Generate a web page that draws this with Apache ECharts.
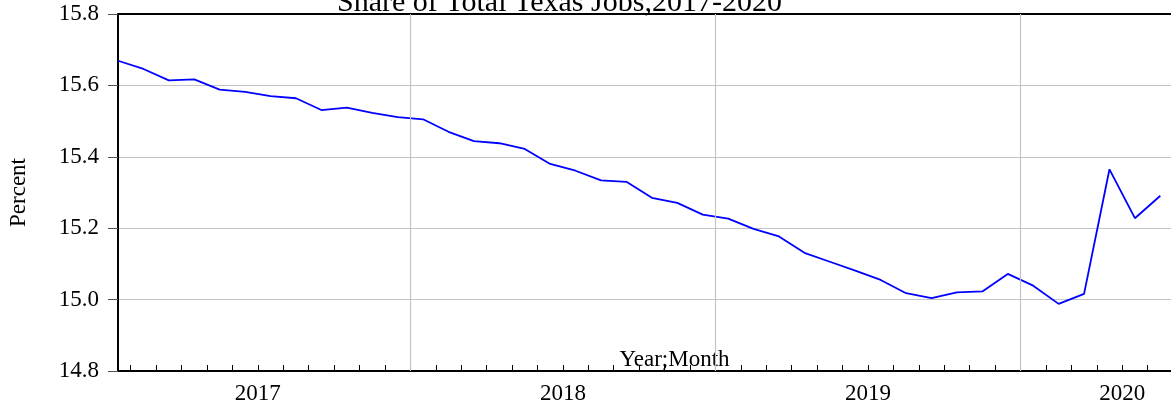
<!DOCTYPE html>
<html>
<head>
<meta charset="utf-8">
<script src="https://cdn.jsdelivr.net/npm/echarts@6/dist/echarts.min.js"></script>
<style>
  html, body { margin: 0; padding: 0; background: #fff; }
  #chart { width: 1171px; height: 406px; }
</style>
</head>
<body>
<div id="chart"></div>
<script>
  // monthly share of Texas jobs, Jan 2017 .. Jun 2020
  var months = [
    "2017M01", "2017M02", "2017M03", "2017M04", "2017M05", "2017M06",
    "2017M07", "2017M08", "2017M09", "2017M10", "2017M11", "2017M12",
    "2018M01", "2018M02", "2018M03", "2018M04", "2018M05", "2018M06",
    "2018M07", "2018M08", "2018M09", "2018M10", "2018M11", "2018M12",
    "2019M01", "2019M02", "2019M03", "2019M04", "2019M05", "2019M06",
    "2019M07", "2019M08", "2019M09", "2019M10", "2019M11", "2019M12",
    "2020M01", "2020M02", "2020M03", "2020M04", "2020M05", "2020M06"
  ];
  var share = [
    15.669, 15.646, 15.614, 15.617, 15.588, 15.582, 15.570, 15.564, 15.531, 15.538, 15.523, 15.511,
    15.505, 15.470, 15.444, 15.438, 15.422, 15.380, 15.361, 15.334, 15.330, 15.285, 15.271, 15.238,
    15.227, 15.198, 15.177, 15.131, 15.106, 15.081, 15.055, 15.018, 15.004, 15.020, 15.023, 15.072,
    15.039, 14.988, 15.016, 15.365, 15.228, 15.291
  ];
  var yearLabels = ["2017", "2018", "2019", "2020"];
  var yearLabelPos = [5.5, 17.5, 29.5, 39.5];
  var yearBreaks = [11.5, 23.5, 35.5];

  var serif = "Liberation Serif";
  var monthTicks = [];
  for (var i = 0; i < months.length - 1; i++) monthTicks.push(i + 0.5);

  var chart = echarts.init(document.getElementById("chart"));
  chart.setOption({
    animation: false,
    title: {
      text: "Share of Total Texas Jobs,2017-2020",
      left: 332,
      top: -17,
      textStyle: { fontFamily: serif, fontSize: 30, fontWeight: "normal", color: "#000" }
    },
    grid: { left: 118, right: 0, top: 14, height: 357, outerBoundsMode: "none" },
    xAxis: [
      {
        type: "value",
        min: 0,
        max: 41.42,
        name: "Year;Month",
        nameLocation: "middle",
        nameGap: -23,
        nameMoveOverlap: false,
        nameTextStyle: { fontFamily: serif, fontSize: 23, color: "#000", padding: [0, 0, 0, 60] },
        axisLine: { show: true, lineStyle: { color: "#000", width: 2 } },
        axisTick: { show: true, inside: true, length: 6, customValues: monthTicks, lineStyle: { color: "#000" } },
        axisLabel: {
          customValues: yearLabelPos,
          margin: 11,
          fontFamily: serif,
          fontSize: 23,
          color: "#000",
          formatter: function (v) {
            var k = yearLabelPos.indexOf(v);
            return k >= 0 ? yearLabels[k] : "";
          }
        },
        splitLine: { show: false }
      },
      {
        type: "value",
        position: "top",
        min: 0,
        max: 41.42,
        axisLine: { show: true, lineStyle: { color: "#000", width: 2 } },
        axisTick: { show: false },
        axisLabel: { show: false },
        splitLine: { show: false }
      }
    ],
    yAxis: {
      type: "value",
      min: 14.8,
      max: 15.8,
      interval: 0.2,
      name: "Percent",
      nameLocation: "middle",
      nameGap: 88,
      nameTextStyle: { fontFamily: serif, fontSize: 23, color: "#000" },
      axisLine: { show: true, lineStyle: { color: "#000", width: 2 } },
      axisTick: { show: true, length: 10, lineStyle: { color: "#555" } },
      axisLabel: {
        margin: 19,
        fontFamily: serif,
        fontSize: 23,
        color: "#000",
        formatter: function (v) { return v.toFixed(1); }
      },
      splitLine: { show: true, lineStyle: { color: "#c4c4c4", width: 1.2 } }
    },
    series: [
      {
        type: "line",
        data: [],
        z: 1,
        silent: true,
        markLine: {
          silent: true,
          symbol: "none",
          label: { show: false },
          lineStyle: { color: "#c4c4c4", width: 1.2, type: "solid" },
          data: yearBreaks.map(function (b) { return { xAxis: b }; })
        }
      },
      {
        type: "line",
        z: 3,
        showSymbol: false,
        data: share.map(function (v, i) { return [i, v]; }),
        lineStyle: { color: "#0000ff", width: 1.8 }
      }
    ]
  });
</script>
</body>
</html>
